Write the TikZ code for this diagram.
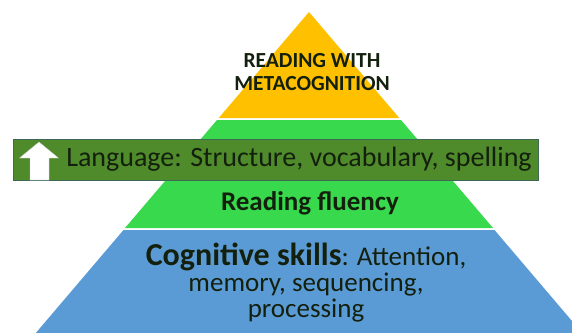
\documentclass[tikz,border=0pt]{standalone}
\usepackage{fontspec}
\setmainfont{Carlito}
\usetikzlibrary{positioning}

\definecolor{topgold}{HTML}{FFC000}
\definecolor{midgreen}{HTML}{38D94C}
\definecolor{basblue}{HTML}{5B9BD5}
\definecolor{bandgreen}{HTML}{4F8A2B}
\definecolor{bandline}{HTML}{3E6A55}
\definecolor{inktext}{HTML}{14200E}

\begin{document}
\begin{tikzpicture}[x=1pt,y=-1pt,
    labeltext/.style={text=inktext, align=center, inner sep=0pt},
    bandbox/.style={fill=bandgreen, draw=bandline, line width=0.8pt}]

	\useasboundingbox (0,0) rectangle (572,332);
	\clip (0,0) rectangle (572,332);

	% pyramid layers
	\fill[topgold]   (309,12) -- (399.3,118) -- (218.7,118) -- cycle;
	\fill[midgreen]  (217,120) -- (401,120) -- (493,228) -- (125,228) -- cycle;
	\fill[basblue]   (123.5,230) -- (494.5,230) -- (589,341) -- (29,341) -- cycle;

	% language band
	\draw[bandbox] (13,139) rectangle (538,180);
	\fill[white, draw=gray!40, line width=0.3pt]
	    (39,142) -- (58.5,158) -- (49,158) -- (49,180) -- (30,180) -- (30,158) -- (19.5,158) -- cycle;

	\node[labeltext, font=\bfseries\fontsize{21.5}{22.5}\selectfont] (meta) at (312,72) {READING WITH\\METACOGNITION};
	\node[labeltext, font=\fontsize{28}{30}\selectfont] (lang) at (299,159) {Language: Structure, vocabulary, spelling};
	\node[labeltext, font=\bfseries\fontsize{27}{30}\selectfont] (flu) at (310,203) {Reading fluency};
	\node[labeltext, font=\fontsize{27}{26}\selectfont] (cog) at (306,283)
	    {{\bfseries\fontsize{32}{26}\selectfont Cognitive skills}: Attention,\\memory, sequencing,\\processing};

\end{tikzpicture}
\end{document}
